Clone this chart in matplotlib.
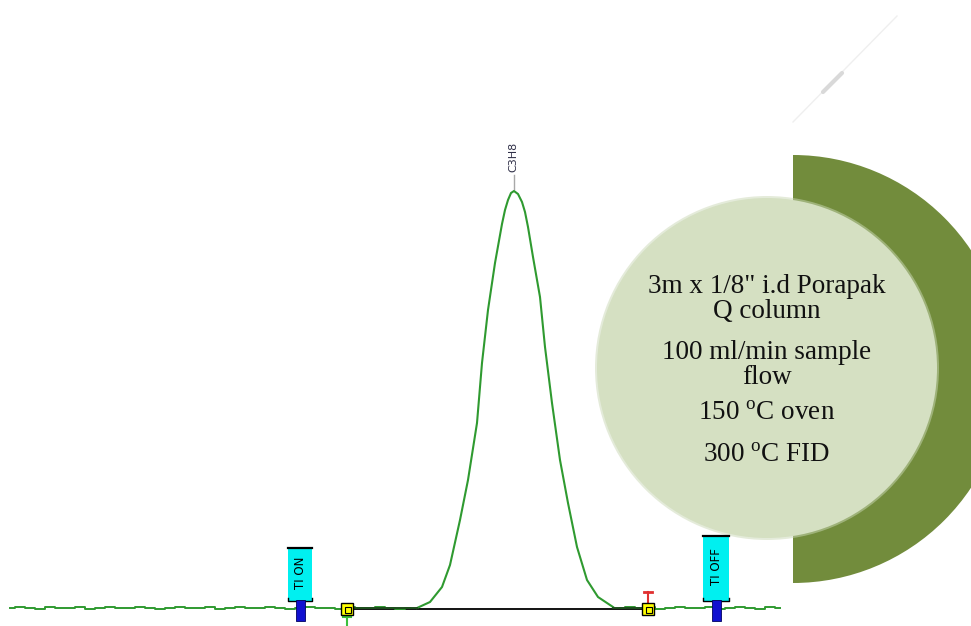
import numpy as np
import matplotlib
matplotlib.use("Agg")
import matplotlib.pyplot as plt
from matplotlib.patches import Circle, Wedge, Rectangle

plt.rcParams['mathtext.fontset'] = 'custom'
plt.rcParams['mathtext.rm'] = 'Liberation Serif'

# retention time (min) and detector signal of the C3H8 peak
peak_t = [4.17, 4.30, 4.42, 4.50, 4.60, 4.68, 4.77, 4.82, 4.88, 4.95, 5.02, 5.05, 5.08,
          5.11, 5.14, 5.18, 5.22, 5.25, 5.28, 5.33, 5.40, 5.45, 5.52, 5.60, 5.68, 5.77,
          5.87, 5.98, 6.13]
peak_s = [0.0, 1.5, 5.25, 10.75, 22.0, 32.0, 46.25, 61.25, 74.5, 86.25, 96.0, 99.5, 102.0,
          103.75, 104.25, 103.5, 101.5, 99.0, 95.25, 87.75, 77.75, 65.25, 51.25, 37.0,
          26.25, 15.25, 7.0, 2.75, 0.25]

# baseline before and after the peak
base_left_t = np.round(np.arange(0.10, 4.17, 0.1), 2)
base_left_s = [0.0, 0.25, 0.0, -0.25, 0.25, 0.0, 0.0, 0.25, -0.25, 0.0,
               0.25, 0.0, 0.0, 0.25, 0.0, -0.25, 0.0, 0.25, 0.0, 0.0,
               0.25, -0.25, 0.0, 0.25, 0.0, 0.0, 0.25, 0.0, -0.25, 0.0,
               0.25, 0.0, 0.0, -0.25, 0.25, 0.0, 0.0, 0.25, 0.0, -0.25, 0.0]
base_right_t = np.round(np.arange(6.20, 7.86, 0.1), 2)
base_right_s = [0.0, 0.25, 0.0, 0.25, -0.25, 0.0, 0.25, 0.0, 0.0, 0.25,
                -0.25, 0.0, 0.25, 0.0, -0.25, 0.25, 0.0]

peak_name = "C3H8"
peak_apex = (5.14, 104.25)
ti_on, ti_off = 3.00, 7.16
int_start, int_end = 3.47, 6.48

notes = ["3m x 1/8\" i.d Porapak\nQ column",
         "100 ml/min sample\nflow",
         r"150 $^\mathrm{o}$C oven",
         r"300 $^\mathrm{o}$C FID"]

fig = plt.figure(figsize=(9.71, 6.26), dpi=100)

# background shapes (pixel coords)
deco = fig.add_axes([0, 0, 1, 1], zorder=0)
deco.set_xlim(0, 971)
deco.set_ylim(626, 0)
deco.axis('off')
deco.add_patch(Wedge((793, 369), 214, -90, 90, facecolor='#728c3c', edgecolor='none'))
deco.add_patch(Circle((767, 368), 172, facecolor='#cbd8b6', edgecolor='none', alpha=0.5))
deco.add_patch(Circle((767, 368), 170, facecolor='#d5e0c2', edgecolor='none'))
deco.plot([793, 897], [122, 16], color='#efefef', lw=1)
deco.plot([823, 842], [92, 73], color='#d9d9d9', lw=3, solid_capstyle='round')
for txt, y in zip(notes, [299, 365, 414, 455]):
    deco.text(767, y, txt, ha='center', va='center', family='Liberation Serif',
              fontsize=19.5, linespacing=0.95, color='#111111')

# chromatogram
ax = fig.add_axes([0, 0, 1, 1], zorder=1)
ax.patch.set_alpha(0)
ax.set_xlim(0, 9.71)
ax.set_ylim(-4.5, 152)
ax.axis('off')

green = '#2f9a30'
ax.plot([int_start, int_end], [-0.3, -0.3], color='black', lw=1.3, zorder=2)
ax.plot(base_left_t, base_left_s, color=green, lw=1.4, drawstyle='steps-mid', zorder=3)
ax.plot(peak_t, peak_s, color=green, lw=1.5, zorder=3)
ax.plot(base_right_t, base_right_s, color=green, lw=1.4, drawstyle='steps-mid', zorder=3)
ax.plot([int_start, 4.17], [0, 0], color='#1d4d1d', lw=1.4, zorder=3)
ax.plot([6.13, int_end], [0, 0], color='#1d4d1d', lw=1.4, zorder=3)

# peak label
ax.plot([peak_apex[0]] * 2, [peak_apex[1] + 0.5, peak_apex[1] + 4], color='#a8a8a8', lw=1)
ax.text(peak_apex[0] - 0.01, peak_apex[1] + 4.8, peak_name, rotation=90, ha='center',
        va='bottom', fontsize=8, color='#303048')

# integration start/stop markers
for t, s0 in [(int_start, -0.3), (int_end, -0.3)]:
    ax.plot(t, s0, marker='s', ms=8.5, mfc='#ffff00', mec='black', mew=1, zorder=6)
    ax.plot(t + 0.01, s0 - 0.3, marker='s', ms=4, mfc='none', mec='black', mew=0.8, zorder=7)
ax.plot([int_start, int_start], [-2.2, -4.5], color='#3cc03c', lw=1.5, zorder=5)
ax.plot([int_start - 0.04, int_start + 0.04], [-2.2, -2.2], color='#3cc03c', lw=1.5, zorder=5)
ax.plot([int_end, int_end], [1.5, 4.0], color='#e03030', lw=1.5, zorder=5)
ax.plot([int_end - 0.04, int_end + 0.04], [4.0, 4.0], color='#e03030', lw=2, zorder=5)

# timed events
for t, label, w, top in [(ti_on, "TI ON", 0.24, 15.0), (ti_off, "TI OFF", 0.26, 18.0)]:
    ax.add_patch(Rectangle((t - w / 2, 1.8), w, top - 1.8, facecolor='#00f0f0',
                           edgecolor='none', zorder=6))
    ax.plot([t - w / 2, t + w / 2], [top, top], color='black', lw=1.6, zorder=7)
    ax.plot([t - w / 2, t - w / 2, t + w / 2, t + w / 2], [2.6, 1.8, 1.8, 2.6],
            color='black', lw=1, zorder=7)
    ax.add_patch(Rectangle((t - 0.045, -3.3), 0.09, 5.3, facecolor='#1010d0',
                           edgecolor='#000060', lw=0.6, zorder=8))
    ax.text(t, (top + 1.8) / 2 + 0.5, label, rotation=90, ha='center', va='center',
            fontsize=8.5, color='black', zorder=9)

fig.savefig("out.png", dpi=100)
